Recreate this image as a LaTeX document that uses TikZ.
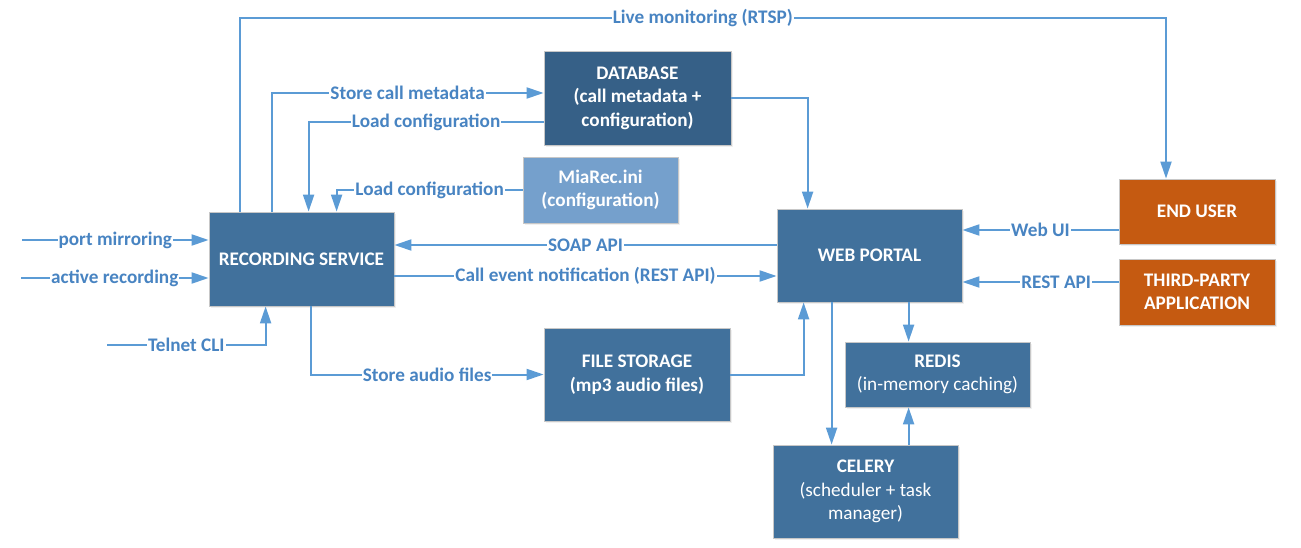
\documentclass[tikz,border=0pt]{standalone}
\usepackage{fontspec}
\setmainfont{Carlito}
\usetikzlibrary{arrows.meta,shadows}
\definecolor{boxblue}{RGB}{65,113,156}
\definecolor{dbblue}{RGB}{54,96,135}
\definecolor{iniblue}{RGB}{117,160,204}
\definecolor{useorange}{RGB}{197,90,17}
\definecolor{linkblue}{RGB}{91,155,213}
\definecolor{labelblue}{RGB}{72,132,194}

\begin{document}
\begin{tikzpicture}[x=1pt,y=-1pt,
  box/.style={draw=black!22,line width=0.8pt,fill=boxblue,text=white,align=center,
              font=\fontsize{19.2}{23.5}\selectfont\bfseries,inner sep=0pt,
              drop shadow={opacity=0.12,shadow xshift=2pt,shadow yshift=-2pt}},
  lbl/.style={fill=white,text=labelblue,font=\fontsize{19.2}{23.5}\selectfont\bfseries,
              inner xsep=1pt,inner ysep=0pt},
  arrow/.style={-{Triangle[length=17pt,width=11pt]},line width=2pt,draw=linkblue}
]
\useasboundingbox (0,0) rectangle (1301,548);

% components
\node[box,minimum width=185pt,minimum height=94pt] (rec) at (301.5,259) {RECORDING SERVICE};
\node[box,fill=dbblue,minimum width=187pt,minimum height=94pt] (db) at (637.5,98) {DATABASE\\(call metadata +\\configuration)};
\node[box,fill=iniblue,minimum width=155pt,minimum height=66pt] (ini) at (600.5,190) {MiaRec.ini\\(configuration)};
\node[box,minimum width=185pt,minimum height=93pt] (web) at (869.5,255.5) {WEB PORTAL};
\node[box,fill=useorange,minimum width=156pt,minimum height=65pt] (user) at (1197,211.5) {END USER};
\node[box,fill=useorange,minimum width=156pt,minimum height=66pt] (third) at (1197,292) {THIRD-PARTY\\APPLICATION};
\node[box,minimum width=186pt,minimum height=93pt] (files) at (637,374.5) {FILE STORAGE\\(mp3 audio files)};
\node[box,minimum width=185pt,minimum height=65pt] (redis) at (937.5,374.5) {REDIS\\{\mdseries (in-memory caching)}};
\node[box,minimum width=185pt,minimum height=93pt] (celery) at (865.5,491.5) {CELERY\\{\mdseries (scheduler + task}\\{\mdseries manager)}};

% free ends and bends
\coordinate (rtsp) at (1166,18);
\coordinate (mirror) at (22,240);
\coordinate (active) at (21,278);
\coordinate (telnet) at (107,345);
\coordinate (soap) at ([yshift=10.5pt]web.west);
\coordinate (notify) at ([yshift=-17pt]rec.east);
\coordinate (webui) at ([yshift=-18.5pt]user.west);
\coordinate (restapi) at ([yshift=10pt]third.west);
\coordinate (tocelery) at ([xshift=55pt]web.south west);
\coordinate (toredis) at ([xshift=132pt]web.south west);

% connectors
\draw[arrow] ([xshift=31pt]rec.north west) |- node[lbl,pos=0.75]{Live monitoring (RTSP)} (rtsp) -- ([xshift=-31pt]user.north);
\draw[arrow] ([xshift=63pt]rec.north west) |- node[lbl,pos=0.75]{Store call metadata} ([yshift=5pt]db.west);
\draw[arrow] ([yshift=-24pt]db.west) -| node[lbl,pos=0.25]{Load configuration} ([xshift=100pt]rec.north west);
\draw[arrow] (ini.west) -| node[lbl,pos=0.25]{Load configuration} ([xshift=128pt]rec.north west);
\draw[arrow] (mirror) -- node[lbl]{port mirroring} (mirror -| rec.west);
\draw[arrow] (active) -- node[lbl]{active recording} (active -| rec.west);
\draw[arrow] (telnet) -| node[lbl,pos=0.25]{Telnet CLI} ([xshift=57pt]rec.south west);
\draw[arrow] ([xshift=102pt]rec.south west) |- node[lbl,pos=0.75]{Store audio files} (files.west);
\draw[arrow] (soap) -- node[lbl]{SOAP API} (soap -| rec.east);
\draw[arrow] (notify) -- node[lbl]{Call event notification (REST API)} (notify -| web.west);
\draw[arrow] (db.east) -| ([xshift=31pt]web.north west);
\draw[arrow] (files.east) -| ([xshift=27pt]web.south west);
\draw[arrow] (webui) -- node[lbl]{Web UI} (webui -| web.east);
\draw[arrow] (restapi) -- node[lbl,pos=0.4]{REST API} (restapi -| web.east);
\draw[arrow] (tocelery) -- (tocelery |- celery.north);
\draw[arrow] (toredis) -- (toredis |- redis.north);
\draw[arrow] (toredis |- celery.north) -- (toredis |- redis.south);
\end{tikzpicture}
\end{document}
